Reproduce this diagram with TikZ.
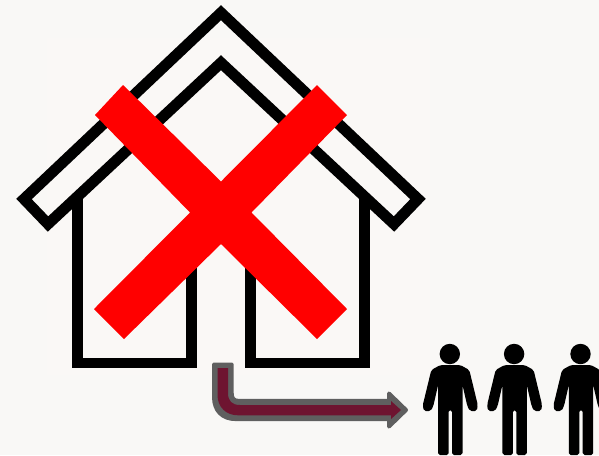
\documentclass[tikz,border=0pt]{standalone}
\definecolor{bgc}{HTML}{F9F8F6}
\definecolor{innerbg}{HTML}{FAF8F6}
\definecolor{barred}{HTML}{FF0000}
\definecolor{arrowgray}{HTML}{5F5F5F}
\definecolor{arrowmaroon}{HTML}{6E1430}
\tikzset{
  px/.style={x=0.75pt,y=-0.75pt},
  house/.style={draw=black,line width=8.2pt,miter limit=10,line join=miter},
  crossbar/.style={fill=barred,draw=none},
  personbody/.style={fill=black,draw=none,rounded corners=1.4pt},
  arrowedge/.style={fill=arrowgray,draw=arrowgray,line join=round}
}
\newcommand{\personfig}[1]{%
  \begin{scope}[shift={(#1,0)}]
    \fill[black] (-0.5,354) circle[radius=10.2];
    \fill[personbody] (0,365) -- (-10,365) -- (-19,370) -- (-27.5,405) -- (-26.5,411) -- (-19.5,411) -- (-17,406) -- (-12.2,385)
      -- (-12.2,455) -- (-1.7,455) -- (-1.7,410) -- (1.7,410) -- (1.7,455) -- (12.2,455) -- (12.2,385)
      -- (17,406) -- (19.5,411) -- (26.5,411) -- (27.5,405) -- (19,370) -- (10,365) -- cycle;
  \end{scope}}
\begin{document}
\begin{tikzpicture}[px]
  \useasboundingbox (0,0) rectangle (599,455);
  \clip (0,0) rectangle (599,455);
  \fill[bgc] (0,0) rectangle (599,455);
  \fill[innerbg] (47,38) rectangle (430,375);
  % walls
  \draw[house] (77.7,196) -- (77.7,363) -- (191.3,363) -- (191.3,240);
  \draw[house] (250.7,240) -- (250.7,363) -- (364.3,363) -- (364.3,196);
  % roof
  \draw[house] (221,12.7) -- (24,199) -- (48,224) -- (221,62.7) -- (394,224) -- (418,199) -- cycle;
  % red cross
  \fill[crossbar] (123,85) -- (221,181.5) -- (317,85) -- (347,115) -- (251.5,212.5) -- (347,309) -- (317,339)
    -- (221,244) -- (124,339) -- (94,309) -- (190,212.5) -- (95,115) -- cycle;
  % arrow
  \filldraw[arrowedge,line width=2.25pt]
    (213.5,364) -- (232.2,364) -- (232.2,393) .. controls (232.2,398) and (234,400.4) .. (239,400.4)
    -- (392,400.4) -- (392,419.6) -- (236,419.6)
    .. controls (222,419.6) and (213.5,411) .. (213.5,397) -- cycle;
  \filldraw[arrowedge,line width=3pt] (389,393.5) -- (406,410) -- (389,426.5) -- cycle;
  \fill[arrowmaroon]
    (217.5,368) -- (228,368) -- (228,393) .. controls (228,401) and (232,405) .. (240,405)
    -- (391,405) -- (391,401) -- (401,410) -- (391,419) -- (391,415.3) -- (238,415.3)
    .. controls (226,415.3) and (217.5,407) .. (217.5,395) -- cycle;
  % people
  \personfig{450.3}
  \personfig{514.6}
  \personfig{581}
\end{tikzpicture}
\end{document}
